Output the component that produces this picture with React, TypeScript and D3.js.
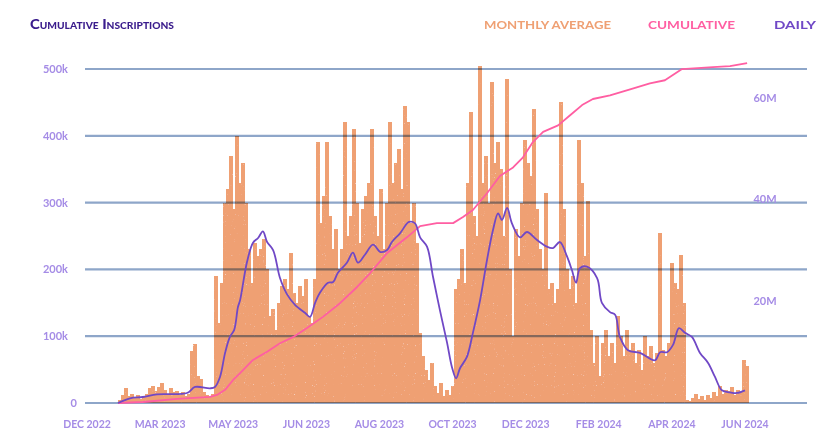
import React from "react";
import * as d3 from "d3";

// daily inscriptions (thousands), one bar per ~3 days
const barValues = [
  5, 12, 22, 10, 14, 8, 12, 6, 10, 14, 22, 26, 18, 24, 30, 20, 14, 22, 16, 18,
  12, 16, 10, 14, 78, 88, 40, 36, 16, 12, 10, 14, 190, 120, 180, 300, 320, 370, 290, 400,
  330, 360, 300, 230, 180, 240, 220, 230, 245, 200, 130, 140, 110, 150, 175, 185, 170, 225, 165, 150,
  175, 160, 185, 130, 120, 185, 390, 270, 310, 390, 280, 230, 260, 200, 230, 420, 250, 280, 410, 300,
  240, 290, 310, 330, 410, 280, 250, 320, 230, 300, 420, 330, 360, 380, 320, 445, 420, 270, 300, 240,
  105, 70, 50, 35, 60, 25, 15, 30, 10, 20, 12, 25, 170, 185, 230, 180, 330, 435, 280, 250,
  505, 330, 370, 300, 480, 360, 390, 350, 250, 485, 200, 100, 260, 220, 300, 393, 360, 340, 440, 290,
  230, 200, 315, 170, 180, 150, 170, 450, 290, 200, 170, 190, 150, 393, 330, 220, 303, 110, 60, 100,
  40, 90, 110, 70, 90, 60, 130, 100, 70, 110, 80, 90, 60, 80, 50, 100, 70, 85, 60, 75,
  255, 80, 70, 90, 210, 180, 170, 222, 150, 5, 3, 8, 14, 6, 10, 4, 12, 8, 16, 10,
  25, 14, 20, 18, 24, 12, 20, 16, 65, 55,
];

// "daily" line: [bar index, thousands]
const dailyLine: [number, number][] = [
  [0, 0], [4, 7], [8.3, 9], [13, 13], [23, 15], [25.7, 24], [30.7, 22], [32.3, 24], [34, 39],
  [35.7, 75], [37.3, 99], [38.7, 109], [40, 144], [40.7, 154], [43, 211], [45, 240], [46.7, 247],
  [48.3, 257], [49.7, 241], [51.7, 229], [54, 187], [56.3, 163], [59, 147], [62.3, 135], [64, 129],
  [65.7, 150], [67.3, 165], [70, 180], [71.7, 181], [73.3, 195], [76.3, 210], [78.3, 225], [80, 210],
  [82.3, 222], [85, 237], [87.5, 226], [89.7, 229], [91.3, 241], [94, 254], [97, 271], [99, 269],
  [100.7, 248], [103, 234], [105, 189], [107.3, 139], [109.7, 90], [111.3, 54], [112.7, 37], [114, 52],
  [116.3, 69], [118.3, 105], [120.7, 154], [123, 214], [125, 259], [126.7, 284], [128, 274], [129.7, 292],
  [131.3, 269], [134, 248], [136.3, 256], [139.7, 244], [143, 234], [145, 232], [147.3, 241], [149.7, 219],
  [151.3, 199], [152.7, 180], [154, 202], [156.3, 204], [159.7, 187], [161.3, 150], [164, 136], [165.7, 132],
  [167.3, 99], [170, 79], [174, 75], [179, 64], [180.7, 76], [183, 76], [185, 87], [187, 112],
  [189, 105], [191.3, 99], [194, 75], [196.7, 60], [199, 39], [201.3, 19], [204, 16], [206.3, 15], [209, 19],
];

// cumulative line: [bar index, millions]
const cumulativeLine: [number, number][] = [
  [0, 0], [8.3, 0.2], [19.7, 0.8], [30.7, 1.2], [33, 1.6], [35.7, 2.6], [38.3, 4.5], [40.7, 5.9],
  [45, 8.5], [49.7, 10.1], [54, 11.8], [58.3, 13.0], [63, 14.8], [68.3, 17.0], [74, 19.7], [79.7, 22.9],
  [84, 25.6], [89.7, 29.6], [96.3, 32.7], [100.7, 34.9], [106.3, 35.5], [111.7, 35.5], [115, 36.7],
  [118.3, 38.1], [123, 41.4], [127.3, 44.8], [131.7, 46.5], [135, 48.5], [138.3, 51.5], [141.7, 53.5],
  [146.7, 54.8], [150.7, 56.8], [154.7, 58.8], [158.3, 60.0], [164, 60.7], [170.7, 61.9], [177.3, 63.1],
  [182.3, 63.7], [188, 65.9], [198.3, 66.3], [204, 66.5], [209.7, 67.1],
];

const leftTicks = [0, 100, 200, 300, 400, 500];
const rightTicks = [20, 40, 60];
const monthLabels = [
  "DEC 2022", "MAR 2023", "MAY 2023", "JUN 2023", "AUG 2023",
  "OCT 2023", "DEC 2023", "FEB 2024", "APR 2024", "JUN 2024",
];

const ORANGE = "#EFA073";
const PINK = "#FF5EA2";
const PURPLE = "#7048C6";
const LAVENDER = "#A58CE6";
const GRID = "#8EA6C9";
const FONT = "Lato, 'Open Sans', sans-serif";

export default function App() {
  const width = 839;
  const height = 430;

  const x = d3.scaleLinear().domain([0, 210]).range([118, 748]);
  const y = d3.scaleLinear().domain([0, 500]).range([403, 69]);
  const yR = d3.scaleLinear().domain([0, 60]).range([403, 99]);
  const xl = d3.scalePoint<string>().domain(monthLabels).range([87, 745]);
  const bw = x(1) - x(0);

  const dailyPath = d3
    .line<[number, number]>()
    .x((d) => x(d[0]))
    .y((d) => y(d[1]))
    .curve(d3.curveCatmullRom)(dailyLine);

  const cumPath = d3
    .line<[number, number]>()
    .x((d) => x(d[0]))
    .y((d) => yR(d[1]))(cumulativeLine);

  return (
    <div style={{ position: "fixed", left: 0, top: 0, background: "#fff" }}>
      <svg width={width} height={height} style={{ display: "block" }}>
        <defs>
          <filter id="grain" x="0" y="0" width="100%" height="100%">
            <feTurbulence type="fractalNoise" baseFrequency="0.9" numOctaves="1" seed="3" result="n" />
            <feColorMatrix
              in="n"
              type="matrix"
              values="0 0 0 0 1  0 0 0 0 1  0 0 0 0 1  3 0 0 0 -2.1"
              result="dots"
            />
            <feComposite in="dots" in2="SourceGraphic" operator="in" result="inside" />
            <feMerge>
              <feMergeNode in="SourceGraphic" />
              <feMergeNode in="inside" />
            </feMerge>
          </filter>
        </defs>

        {/* title + legend */}
        <text
          x={30}
          y={29}
          fill="#3A1C8C"
          fontFamily={FONT}
          fontWeight={900}
          fontSize={13}
          style={{ fontVariant: "small-caps" }}
          textLength={144}
          lengthAdjust="spacingAndGlyphs"
        >
          Cumulative Inscriptions
        </text>
        <text x={484} y={29} fill={ORANGE} fontFamily={FONT} fontWeight={700} fontSize={11.5}
          textLength={127} lengthAdjust="spacingAndGlyphs">MONTHLY AVERAGE</text>
        <text x={648} y={29} fill={PINK} fontFamily={FONT} fontWeight={700} fontSize={11.5}
          textLength={87} lengthAdjust="spacingAndGlyphs">CUMULATIVE</text>
        <text x={774} y={29} fill={PURPLE} fontFamily={FONT} fontWeight={700} fontSize={11.5}
          textLength={42} lengthAdjust="spacingAndGlyphs">DAILY</text>

        {/* bars */}
        <g filter="url(#grain)" shapeRendering="crispEdges">
          {barValues.map((v, i) => (
            <rect key={i} x={x(i)} y={y(v)} width={bw + 0.5} height={y(0) - y(v)} fill={ORANGE} />
          ))}
        </g>

        {/* gridlines over the bars */}
        <g style={{ mixBlendMode: "multiply" }}>
          {leftTicks.map((t) => (
            <line key={t} x1={85} x2={807} y1={y(t)} y2={y(t)} stroke={GRID} strokeWidth={2.2} />
          ))}
        </g>

        {/* lines */}
        <path d={cumPath ?? ""} fill="none" stroke={PINK} strokeWidth={1.8} strokeLinejoin="round" />
        <path d={dailyPath ?? ""} fill="none" stroke={PURPLE} strokeWidth={1.8} strokeLinejoin="round" />

        {/* left axis */}
        {leftTicks.map((t) => (
          <text key={t} x={t === 0 ? 77 : 68} y={y(t) + 4} textAnchor="end" fill={LAVENDER}
            fontFamily={FONT} fontWeight={700} fontSize={11}>
            {t === 0 ? "0" : `${t}k`}
          </text>
        ))}

        {/* right axis */}
        {rightTicks.map((t) => (
          <text key={t} x={765} y={yR(t) + 3} textAnchor="middle" fill={LAVENDER}
            fontFamily={FONT} fontWeight={700} fontSize={11}>
            {`${t}M`}
          </text>
        ))}

        {/* x labels */}
        {monthLabels.map((m) => (
          <text key={m} x={xl(m)} y={428} textAnchor="middle" fill={LAVENDER}
            fontFamily={FONT} fontWeight={700} fontSize={10.5}>
            {m}
          </text>
        ))}
      </svg>
    </div>
  );
}
